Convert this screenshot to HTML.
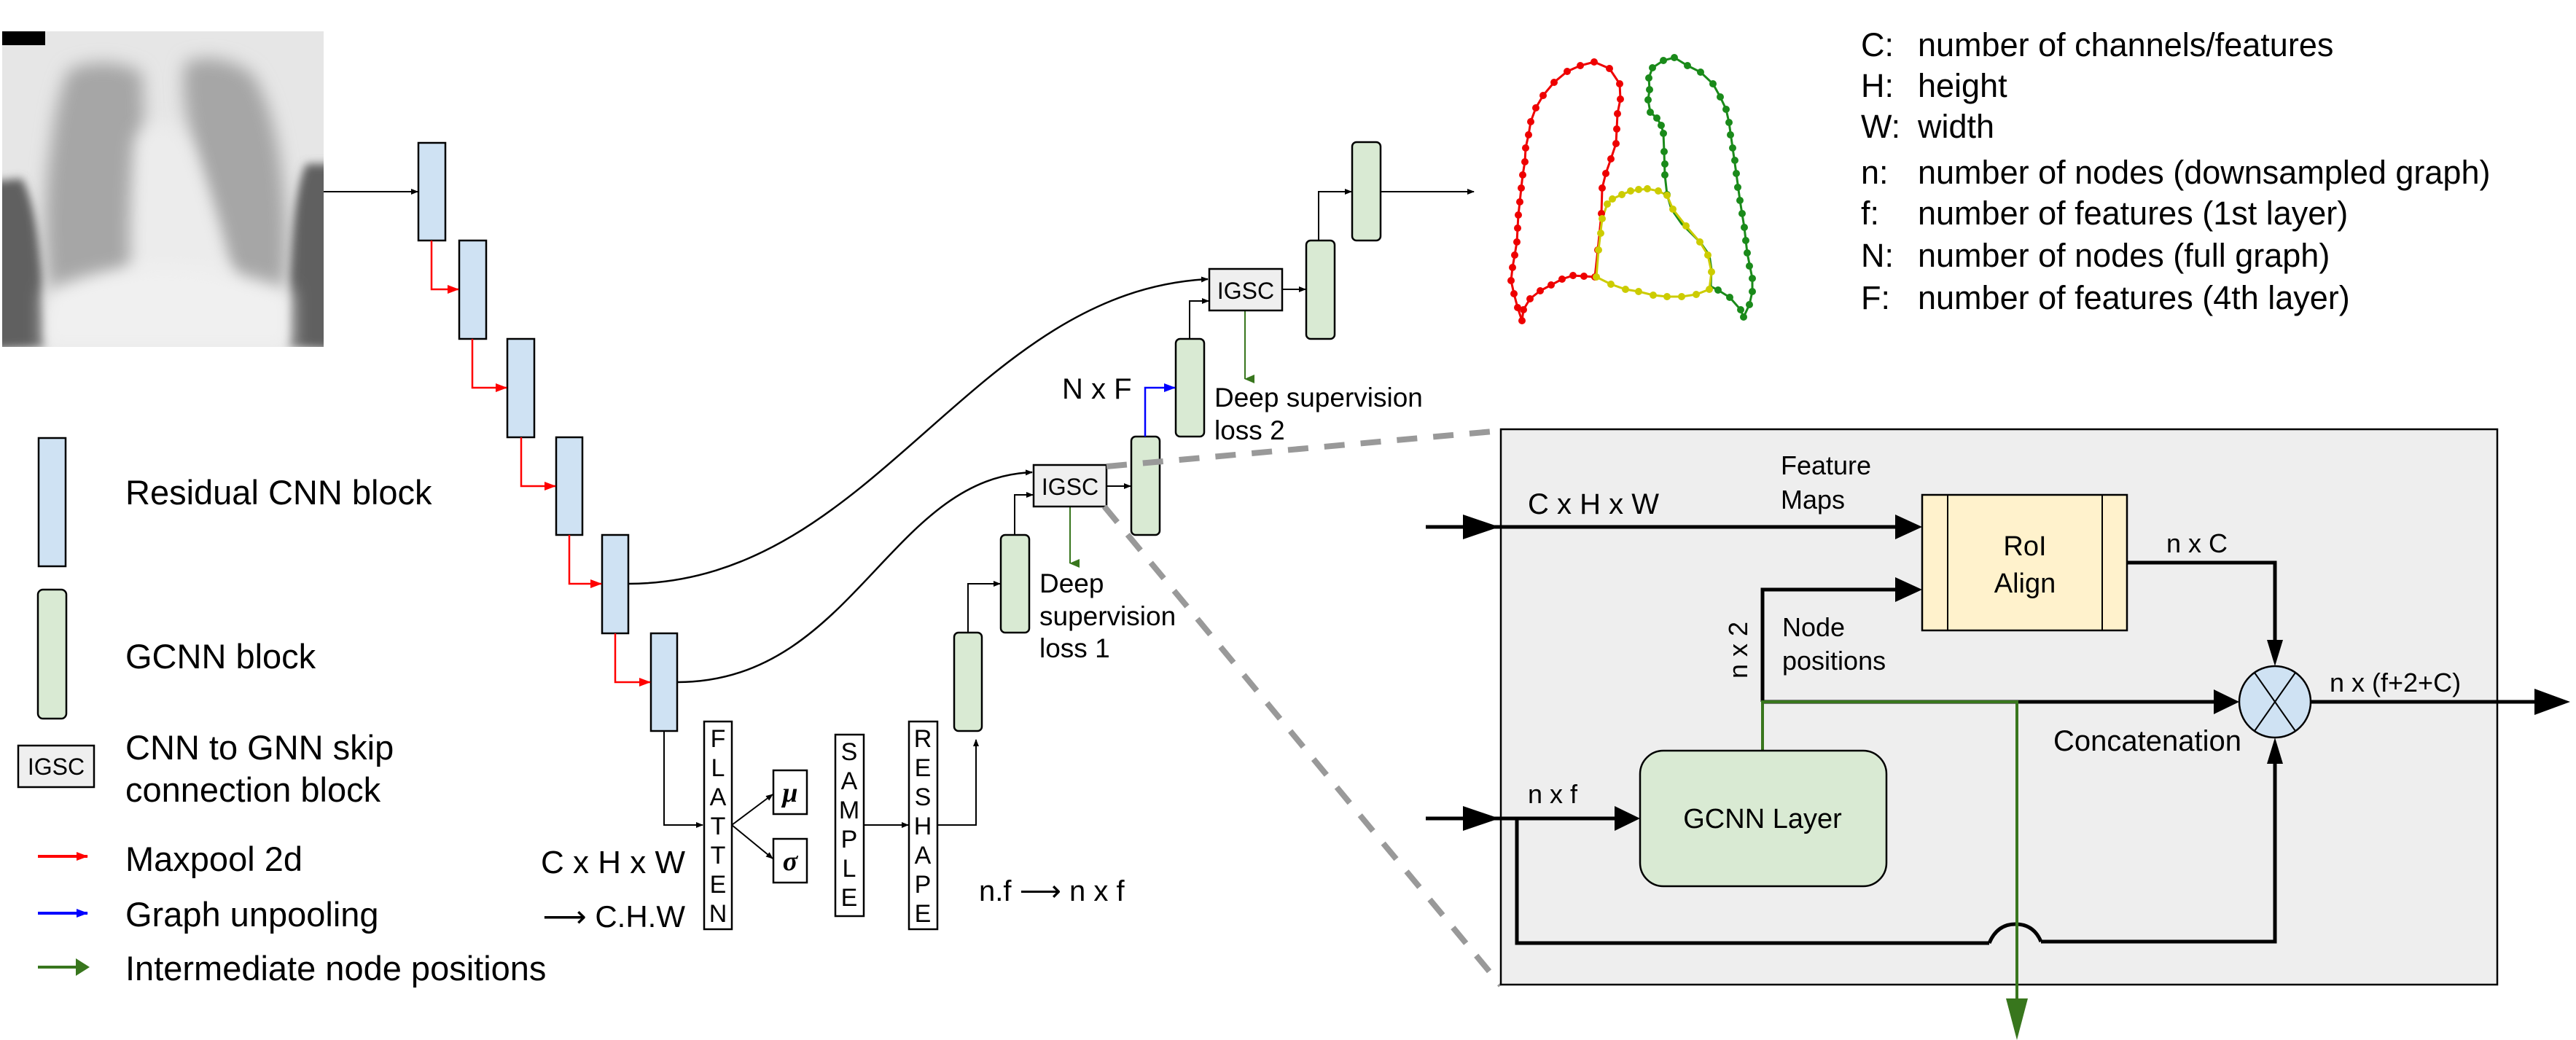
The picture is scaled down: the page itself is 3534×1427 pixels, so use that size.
<!DOCTYPE html>
<html><head><meta charset="utf-8"><style>
html,body{margin:0;padding:0;background:#fff;}
svg{display:block;}
text{font-family:"Liberation Sans",Arial,sans-serif;fill:#000;}
</style></head><body>
<svg width="3534" height="1427" viewBox="0 0 3534 1427" xmlns="http://www.w3.org/2000/svg">
<defs>
<marker id="ak" markerWidth="10" markerHeight="8" refX="9" refY="4" orient="auto" markerUnits="userSpaceOnUse"><path d="M0,0 L10,4 L0,8 z" fill="#000"/></marker>
<marker id="ar" markerWidth="16" markerHeight="12" refX="15" refY="6" orient="auto" markerUnits="userSpaceOnUse"><path d="M0,0 L16,6 L0,12 z" fill="#f00"/></marker>
<marker id="ab" markerWidth="16" markerHeight="12" refX="15" refY="6" orient="auto" markerUnits="userSpaceOnUse"><path d="M0,0 L16,6 L0,12 z" fill="#00f"/></marker>
<marker id="ag" markerWidth="12" markerHeight="14" refX="6" refY="13" orient="auto" markerUnits="userSpaceOnUse"><path d="M0,0 L12,0 L6,14 z" fill="#38761d"/></marker>
<filter id="bl" x="-30%" y="-30%" width="160%" height="160%"><feGaussianBlur stdDeviation="12"/></filter>
<filter id="bl2" x="-30%" y="-30%" width="160%" height="160%"><feGaussianBlur stdDeviation="6"/></filter>
<clipPath id="xc"><rect x="3" y="43" width="441" height="433"/></clipPath>
</defs>

<!-- X-ray -->
<g clip-path="url(#xc)">
<rect x="3" y="43" width="441" height="433" fill="#e6e6e6"/>
<path d="M-20,250 L30,245 Q60,300 62,476 L-20,480 z" fill="#606060" filter="url(#bl2)"/>
<path d="M460,225 L420,225 Q395,280 395,476 L460,480 z" fill="#606060" filter="url(#bl2)"/>
<path d="M95,95 Q150,75 195,100 L205,360 L175,375 Q110,400 70,420 Q55,300 70,200 Q78,130 95,95 z" fill="#a6a6a6" filter="url(#bl)"/>
<path d="M255,85 Q300,70 345,100 Q385,160 392,300 Q395,380 385,410 L335,395 Q310,380 300,340 L265,200 Q245,120 255,85 z" fill="#a6a6a6" filter="url(#bl)"/>
<path d="M185,190 Q225,140 260,200 Q300,300 320,390 L180,390 Q175,300 185,190 z" fill="#ececec" filter="url(#bl)"/>
<path d="M60,400 Q220,330 400,400 L400,480 L60,480 z" fill="#f0f0f0" filter="url(#bl)"/>
</g>
<rect x="3" y="43" width="59" height="19" fill="#000"/>
<line x1="444" y1="263" x2="573" y2="263" stroke="#000" stroke-width="2" marker-end="url(#ak)"/>

<!-- CNN blocks -->
<g fill="#cfe2f3" stroke="#000" stroke-width="2.5">
<rect x="574" y="196" width="37" height="134"/>
<rect x="630" y="330" width="37" height="135"/>
<rect x="696" y="465" width="37" height="135"/>
<rect x="763" y="600" width="36" height="134"/>
<rect x="826" y="734" width="36" height="135"/>
<rect x="893" y="869" width="36" height="134"/>
</g>
<g fill="none" stroke="#f00" stroke-width="2.5">
<polyline points="592,330 592,397 629,397" marker-end="url(#ar)"/>
<polyline points="648,465 648,532 695,532" marker-end="url(#ar)"/>
<polyline points="715,600 715,667 762,667" marker-end="url(#ar)"/>
<polyline points="781,734 781,801 825,801" marker-end="url(#ar)"/>
<polyline points="844,869 844,936 892,936" marker-end="url(#ar)"/>
</g>

<!-- curves -->
<path d="M862,801 C1200,800 1330,400 1657,383" fill="none" stroke="#000" stroke-width="2.5" marker-end="url(#ak)"/>
<path d="M929,936 C1170,936 1220,655 1416,648" fill="none" stroke="#000" stroke-width="2.5" marker-end="url(#ak)"/>

<!-- flatten path -->
<polyline points="911,1003 911,1132 964,1132" fill="none" stroke="#000" stroke-width="2" marker-end="url(#ak)"/>
<rect x="966" y="990" width="38" height="285" fill="#fff" stroke="#000" stroke-width="2.5"/>
<g font-size="34" text-anchor="middle">
<text x="985" y="1025">F</text><text x="985" y="1065">L</text><text x="985" y="1105">A</text><text x="985" y="1145">T</text><text x="985" y="1185">T</text><text x="985" y="1225">E</text><text x="985" y="1265">N</text>
</g>
<line x1="1004" y1="1132" x2="1060" y2="1090" stroke="#000" stroke-width="2" marker-end="url(#ak)"/>
<line x1="1004" y1="1132" x2="1060" y2="1178" stroke="#000" stroke-width="2" marker-end="url(#ak)"/>
<rect x="1061" y="1057" width="46" height="60" fill="#fff" stroke="#000" stroke-width="2.5"/>
<rect x="1061" y="1151" width="46" height="60" fill="#fff" stroke="#000" stroke-width="2.5"/>
<text x="1084" y="1100" font-size="38" font-style="italic" font-weight="bold" text-anchor="middle" style="font-family:'Liberation Serif',serif">μ</text>
<text x="1084" y="1194" font-size="38" font-style="italic" font-weight="bold" text-anchor="middle" style="font-family:'Liberation Serif',serif">σ</text>
<rect x="1146" y="1008" width="39" height="249" fill="#fff" stroke="#000" stroke-width="2.5"/>
<g font-size="34" text-anchor="middle">
<text x="1165" y="1043">S</text><text x="1165" y="1083">A</text><text x="1165" y="1123">M</text><text x="1165" y="1163">P</text><text x="1165" y="1203">L</text><text x="1165" y="1243">E</text>
</g>
<line x1="1185" y1="1132" x2="1246" y2="1132" stroke="#000" stroke-width="2" marker-end="url(#ak)"/>
<rect x="1247" y="990" width="39" height="285" fill="#fff" stroke="#000" stroke-width="2.5"/>
<g font-size="34" text-anchor="middle">
<text x="1266" y="1025">R</text><text x="1266" y="1065">E</text><text x="1266" y="1105">S</text><text x="1266" y="1145">H</text><text x="1266" y="1185">A</text><text x="1266" y="1225">P</text><text x="1266" y="1265">E</text>
</g>
<polyline points="1286,1132 1339,1132 1339,1015" fill="none" stroke="#000" stroke-width="2" marker-end="url(#ak)"/>
<text x="940" y="1198" font-size="44" text-anchor="end">C x H x W</text>
<text x="940" y="1272" font-size="42" text-anchor="end">⟶ C.H.W</text>
<text x="1343" y="1236" font-size="40">n.f ⟶ n x f</text>

<!-- GCNN chain -->
<g fill="#d9ead3" stroke="#000" stroke-width="2.5">
<rect x="1309" y="868" width="38" height="135" rx="6"/>
<rect x="1373" y="734" width="39" height="134" rx="6"/>
<rect x="1552" y="599" width="39" height="135" rx="6"/>
<rect x="1613" y="465" width="39" height="134" rx="6"/>
<rect x="1792" y="330" width="39" height="135" rx="6"/>
<rect x="1855" y="195" width="39" height="135" rx="6"/>
</g>
<g fill="none" stroke="#000" stroke-width="2">
<polyline points="1328,868 1328,801 1372,801" marker-end="url(#ak)"/>
<polyline points="1392,734 1392,679 1417,679" marker-end="url(#ak)"/>
<line x1="1518" y1="667" x2="1551" y2="667" marker-end="url(#ak)"/>
<polyline points="1632,465 1632,413 1658,413" marker-end="url(#ak)"/>
<line x1="1759" y1="397" x2="1791" y2="397" marker-end="url(#ak)"/>
<polyline points="1809,330 1809,263 1854,263" marker-end="url(#ak)"/>
<line x1="1894" y1="263" x2="2022" y2="263" marker-end="url(#ak)"/>
</g>
<polyline points="1571,599 1571,532 1612,532" fill="none" stroke="#00f" stroke-width="2.5" marker-end="url(#ab)"/>
<line x1="1468" y1="695" x2="1468" y2="773" stroke="#38761d" stroke-width="2" marker-end="url(#ag)"/>
<line x1="1708" y1="426" x2="1708" y2="520" stroke="#38761d" stroke-width="2" marker-end="url(#ag)"/>
<rect x="1418" y="638" width="100" height="57" fill="#efefef" stroke="#000" stroke-width="2.5"/>
<text x="1468" y="679" font-size="32" text-anchor="middle">IGSC</text>
<rect x="1659" y="369" width="100" height="57" fill="#efefef" stroke="#000" stroke-width="2.5"/>
<text x="1709" y="410" font-size="32" text-anchor="middle">IGSC</text>
<text x="1457" y="547" font-size="40">N x F</text>
<g font-size="37">
<text x="1426" y="813">Deep</text><text x="1426" y="858">supervision</text><text x="1426" y="902">loss 1</text>
<text x="1666" y="558">Deep supervision</text><text x="1666" y="603">loss 2</text>
</g>

<!-- dashed zoom lines -->
<line x1="1518" y1="640" x2="2059" y2="591" stroke="#999" stroke-width="8" stroke-dasharray="28,22"/>
<line x1="1515" y1="695" x2="2059" y2="1352" stroke="#999" stroke-width="8" stroke-dasharray="28,22"/>

<!-- zoom box -->
<rect x="2059" y="589" width="1367" height="762" fill="#eeeeee" stroke="#000" stroke-width="2.5"/>
<g fill="none" stroke="#000" stroke-width="5">
<line x1="1956" y1="723" x2="2630" y2="723"/>
<polyline points="2081,1123 2081,1294 2729,1294"/>
<path d="M2729,1294 Q2740,1268 2765,1268 Q2790,1268 2800,1292"/>
<polyline points="2800,1292 3121,1292 3121,1020"/>
<line x1="1956" y1="1123" x2="2245" y2="1123"/>
<polyline points="2418,963 2418,809 2630,809"/>
<line x1="2418" y1="963" x2="3065" y2="963"/>
<polyline points="2918,772 3121,772 3121,905"/>
<line x1="3170" y1="963" x2="3480" y2="963"/>
</g>
<g fill="#000">
<path d="M2007,706 L2057,723 L2007,740 z"/>
<path d="M2007,1106 L2057,1123 L2007,1140 z"/>
<path d="M2600,706 L2637,723 L2600,740 z"/>
<path d="M2600,792 L2637,809 L2600,826 z"/>
<path d="M2215,1106 L2250,1123 L2215,1140 z"/>
<path d="M3037,946 L3072,963 L3037,980 z"/>
<path d="M3110,878 L3121,914 L3132,878 z"/>
<path d="M3110,1048 L3121,1012 L3132,1048 z"/>
<path d="M3477,945 L3526,963 L3477,981 z"/>
</g>
<polyline points="2418,1030 2418,963 2767,963 2767,1375" fill="none" stroke="#38761d" stroke-width="4"/>
<path d="M2752,1370 L2782,1370 L2767,1427 z" fill="#38761d"/>
<rect x="2637" y="679" width="281" height="186" fill="#fff2cc" stroke="#000" stroke-width="2.5"/>
<line x1="2672" y1="679" x2="2672" y2="865" stroke="#000" stroke-width="2"/>
<line x1="2884" y1="679" x2="2884" y2="865" stroke="#000" stroke-width="2"/>
<text x="2778" y="762" font-size="38" text-anchor="middle">RoI</text>
<text x="2778" y="813" font-size="38" text-anchor="middle">Align</text>
<rect x="2250" y="1030" width="338" height="186" rx="32" fill="#d9ead3" stroke="#000" stroke-width="2.5"/>
<text x="2418" y="1136" font-size="38" text-anchor="middle">GCNN Layer</text>
<ellipse cx="3121" cy="963" rx="49" ry="49" fill="#cfe2f3" stroke="#000" stroke-width="2.5"/>
<line x1="3093" y1="923" x2="3149" y2="1003" stroke="#000" stroke-width="2"/>
<line x1="3149" y1="923" x2="3093" y2="1003" stroke="#000" stroke-width="2"/>
<g font-size="36">
<text x="2096" y="705" font-size="40">C x H x W</text>
<text x="2443" y="651">Feature</text><text x="2443" y="698">Maps</text>
<text x="2972" y="758">n x C</text>
<text x="2445" y="873">Node</text><text x="2445" y="919">positions</text>
<text x="2817" y="1030" font-size="40">Concatenation</text>
<text x="3196" y="949">n x (f+2+C)</text>
<text x="2096" y="1102">n x f</text>
<text transform="translate(2397,892) rotate(-90)" text-anchor="middle">n x 2</text>
</g>

<!-- lungs -->
<g fill="none" stroke-width="3">
<polyline stroke="#e00" points="2187,85 2168,90 2150,98 2132,113 2117,131 2107,148 2100,167 2097,185 2093,203 2092,222 2089,240 2087,258 2085,277 2083,295 2082,313 2081,332 2078,350 2075,367 2073,385 2077,403 2082,422 2088,440 2090,425 2099,410 2113,399 2128,391 2143,383 2158,378 2173,379 2188,380 2192,343 2197,293 2198,258 2203,238 2210,218 2217,197 2218,177 2219,156 2223,136 2222,115 2208,94 2187,85"/>
<polyline stroke="#1a8a1a" points="2297,79 2282,83 2267,93 2262,107 2263,123 2261,137 2264,154 2273,162 2279,172 2282,183 2283,208 2284,240 2287,267 2293,287 2307,307 2320,320 2333,333 2345,350 2348,370 2347,393 2357,398 2373,408 2388,425 2392,435 2400,418 2404,400 2404,382 2397,347 2393,312 2387,275 2382,238 2377,203 2372,168 2368,150 2360,133 2350,115 2333,99 2315,90 2297,79"/>
<polyline stroke="#cc0" points="2190,380 2193,343 2198,300 2205,280 2212,273 2225,267 2237,262 2260,259 2275,262 2287,268 2295,287 2313,310 2332,332 2343,350 2348,373 2345,397 2327,404 2307,407 2287,407 2268,405 2248,400 2230,397 2210,390 2190,380"/>
</g>
<g fill="#e00">
<circle cx="2187" cy="85" r="5"/><circle cx="2168" cy="90" r="5"/><circle cx="2150" cy="98" r="5"/><circle cx="2132" cy="113" r="5"/><circle cx="2117" cy="131" r="5"/><circle cx="2107" cy="148" r="5"/><circle cx="2100" cy="167" r="5"/><circle cx="2097" cy="185" r="5"/><circle cx="2093" cy="203" r="5"/><circle cx="2092" cy="222" r="5"/><circle cx="2089" cy="240" r="5"/><circle cx="2087" cy="258" r="5"/><circle cx="2085" cy="277" r="5"/><circle cx="2083" cy="295" r="5"/><circle cx="2082" cy="313" r="5"/><circle cx="2081" cy="332" r="5"/><circle cx="2078" cy="350" r="5"/><circle cx="2075" cy="367" r="5"/><circle cx="2073" cy="385" r="5"/><circle cx="2077" cy="403" r="5"/><circle cx="2082" cy="422" r="5"/><circle cx="2088" cy="440" r="5"/><circle cx="2090" cy="425" r="5"/><circle cx="2099" cy="410" r="5"/><circle cx="2113" cy="399" r="5"/><circle cx="2128" cy="391" r="5"/><circle cx="2143" cy="383" r="5"/><circle cx="2158" cy="378" r="5"/><circle cx="2173" cy="379" r="5"/><circle cx="2188" cy="380" r="5"/><circle cx="2192" cy="343" r="5"/><circle cx="2197" cy="293" r="5"/><circle cx="2198" cy="258" r="5"/><circle cx="2203" cy="238" r="5"/><circle cx="2210" cy="218" r="5"/><circle cx="2217" cy="197" r="5"/><circle cx="2218" cy="177" r="5"/><circle cx="2219" cy="156" r="5"/><circle cx="2223" cy="136" r="5"/><circle cx="2222" cy="115" r="5"/><circle cx="2208" cy="94" r="5"/>
</g>
<g fill="#1a8a1a">
<circle cx="2297" cy="79" r="5"/><circle cx="2282" cy="83" r="5"/><circle cx="2267" cy="93" r="5"/><circle cx="2262" cy="107" r="5"/><circle cx="2263" cy="123" r="5"/><circle cx="2261" cy="137" r="5"/><circle cx="2264" cy="154" r="5"/><circle cx="2273" cy="162" r="5"/><circle cx="2279" cy="172" r="5"/><circle cx="2282" cy="183" r="5"/><circle cx="2283" cy="208" r="5"/><circle cx="2284" cy="225" r="5"/><circle cx="2284" cy="240" r="5"/><circle cx="2287" cy="267" r="5"/><circle cx="2357" cy="398" r="5"/><circle cx="2373" cy="408" r="5"/><circle cx="2388" cy="425" r="5"/><circle cx="2392" cy="435" r="5"/><circle cx="2400" cy="418" r="5"/><circle cx="2404" cy="400" r="5"/><circle cx="2404" cy="382" r="5"/><circle cx="2400" cy="365" r="5"/><circle cx="2397" cy="347" r="5"/><circle cx="2395" cy="330" r="5"/><circle cx="2393" cy="312" r="5"/><circle cx="2390" cy="293" r="5"/><circle cx="2387" cy="275" r="5"/><circle cx="2384" cy="257" r="5"/><circle cx="2382" cy="238" r="5"/><circle cx="2380" cy="220" r="5"/><circle cx="2377" cy="203" r="5"/><circle cx="2374" cy="185" r="5"/><circle cx="2372" cy="168" r="5"/><circle cx="2368" cy="150" r="5"/><circle cx="2360" cy="133" r="5"/><circle cx="2350" cy="115" r="5"/><circle cx="2333" cy="99" r="5"/><circle cx="2315" cy="90" r="5"/>
</g>
<g fill="#cc0">
<circle cx="2190" cy="380" r="5"/><circle cx="2193" cy="343" r="5"/><circle cx="2196" cy="320" r="5"/><circle cx="2198" cy="300" r="5"/><circle cx="2205" cy="280" r="5"/><circle cx="2212" cy="273" r="5"/><circle cx="2225" cy="267" r="5"/><circle cx="2237" cy="262" r="5"/><circle cx="2248" cy="260" r="5"/><circle cx="2260" cy="259" r="5"/><circle cx="2275" cy="262" r="5"/><circle cx="2287" cy="268" r="5"/><circle cx="2295" cy="287" r="5"/><circle cx="2313" cy="310" r="5"/><circle cx="2332" cy="332" r="5"/><circle cx="2343" cy="350" r="5"/><circle cx="2348" cy="373" r="5"/><circle cx="2345" cy="397" r="5"/><circle cx="2327" cy="404" r="5"/><circle cx="2307" cy="407" r="5"/><circle cx="2287" cy="407" r="5"/><circle cx="2268" cy="405" r="5"/><circle cx="2248" cy="400" r="5"/><circle cx="2230" cy="397" r="5"/><circle cx="2210" cy="390" r="5"/>
</g>

<!-- variable legend -->
<g font-size="45">
<text x="2553" y="77">C:</text><text x="2631" y="77">number of channels/features</text>
<text x="2553" y="133">H:</text><text x="2631" y="133">height</text>
<text x="2553" y="189">W:</text><text x="2631" y="189">width</text>
<text x="2553" y="252">n:</text><text x="2631" y="252">number of nodes (downsampled graph)</text>
<text x="2553" y="308">f:</text><text x="2631" y="308">number of features (1st layer)</text>
<text x="2553" y="366">N:</text><text x="2631" y="366">number of nodes (full graph)</text>
<text x="2553" y="424">F:</text><text x="2631" y="424">number of features (4th layer)</text>
</g>

<!-- left legend -->
<rect x="53" y="601" width="37" height="176" fill="#cfe2f3" stroke="#000" stroke-width="2.5"/>
<rect x="52" y="809" width="39" height="177" rx="7" fill="#d9ead3" stroke="#000" stroke-width="2.5"/>
<rect x="25" y="1023" width="104" height="57" fill="#efefef" stroke="#000" stroke-width="2.5"/>
<text x="77" y="1063" font-size="32" text-anchor="middle">IGSC</text>
<line x1="52" y1="1175" x2="120" y2="1175" stroke="#f00" stroke-width="4" marker-end="url(#ar)"/>
<line x1="52" y1="1253" x2="120" y2="1253" stroke="#00f" stroke-width="4" marker-end="url(#ab)"/>
<line x1="52" y1="1327" x2="108" y2="1327" stroke="#38761d" stroke-width="4"/>
<path d="M104,1315 L123,1327 L104,1339 z" fill="#38761d"/>
<g font-size="47">
<text x="172" y="692">Residual CNN block</text>
<text x="172" y="917">GCNN block</text>
<text x="172" y="1042">CNN to GNN skip</text>
<text x="172" y="1100">connection block</text>
<text x="172" y="1195">Maxpool 2d</text>
<text x="172" y="1271">Graph unpooling</text>
<text x="172" y="1345">Intermediate node positions</text>
</g>
</svg>
</body></html>
